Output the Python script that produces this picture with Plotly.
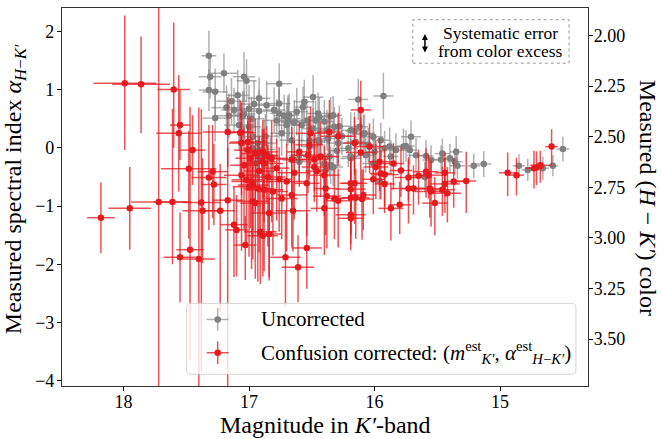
import plotly.graph_objects as go

# ---------------- data ----------------
gray_mag = [
    17.32, 17.31, 17.32, 17.27, 17.20, 17.04, 17.02, 16.76, 17.14, 17.09,
    17.12, 17.00, 16.92, 16.76, 16.76, 16.78, 17.08, 17.06, 16.97, 16.87,
    16.93, 16.90, 16.97, 16.92, 16.94, 16.83, 16.69, 17.18, 16.86, 16.92,
    17.00, 16.68, 16.62, 16.57, 16.49, 16.54, 16.44, 16.40, 16.33, 16.28,
    16.13, 15.93, 16.16, 16.09, 16.01, 15.95, 15.88, 15.83, 15.77, 15.71,
    15.67, 15.59, 16.19, 15.96, 16.01, 16.07, 16.88, 16.90, 16.85, 16.74,
    16.70, 16.64, 16.60, 16.52, 16.44, 16.33, 16.36, 16.21, 16.29, 16.56,
    16.45, 16.35, 16.69, 16.58, 16.49, 16.32, 16.19, 16.12, 16.08, 16.45,
    16.37, 16.66, 16.19, 16.40, 16.00, 15.92, 15.87, 15.75, 15.72, 15.55,
    15.46, 15.47, 15.40, 15.35, 15.36, 15.34, 15.21, 15.13, 14.85, 14.78,
    14.66, 14.58, 14.50, 15.60, 16.35, 16.39, 16.60, 17.27, 17.16, 17.05,
    16.98, 16.80, 16.72, 16.64, 16.47, 16.38, 16.26, 16.96, 17.04, 16.52,
    16.30, 16.15, 16.05]
gray_alpha = [
    1.58, 1.22, 0.99, 0.96, 1.28, 1.22, 1.15, 1.10, 0.80, 0.90,
    0.65, 0.67, 0.63, 0.76, 0.59, 0.47, 0.39, 0.27, 0.19, 0.20,
    0.08, -0.03, -0.01, -0.15, -0.26, -0.15, 0.45, 0.69, 0.73, 0.85,
    0.36, 0.56, 0.62, 0.70, 0.87, 0.47, 0.53, 0.45, 0.56, 0.37,
    0.83, 0.89, 0.29, 0.23, 0.19, 0.13, 0.02, -0.04, 0.02, 0.19,
    -0.13, -0.14, -0.18, -0.58, -0.27, -0.13, 0.08, -0.21, -0.13, 0.25,
    0.39, -0.21, -0.13, 0.02, 0.10, -0.33, -0.15, -0.01, 0.08, 0.79,
    0.59, 0.54, 0.50, 0.39, 0.33, 0.36, 0.30, 0.36, 0.25, 0.13,
    0.16, 0.13, -0.15, -0.27, -0.07, -0.01, -0.15, 0.03, -0.04, -0.21,
    -0.10, -0.20, -0.18, -0.07, -0.24, -0.31, -0.31, -0.28, -0.31, -0.38,
    -0.35, -0.31, -0.02, -0.50, -0.30, -0.38, -0.24, 0.51, 0.55, 0.55,
    0.50, 0.65, 0.55, 0.44, 0.47, 0.30, 0.20, 0.75, 0.58, 0.12,
    -0.05, 0.10, 0.05]
gray_xerr = [
    0.06, 0.09, 0.08, 0.10, 0.11, 0.09, 0.08, 0.10, 0.12, 0.09,
    0.10, 0.08, 0.11, 0.09, 0.07, 0.10, 0.12, 0.09, 0.08, 0.10,
    0.09, 0.11, 0.08, 0.10, 0.09, 0.07, 0.10, 0.12, 0.08, 0.09,
    0.10, 0.08, 0.09, 0.07, 0.08, 0.10, 0.09, 0.08, 0.07, 0.09,
    0.08, 0.08, 0.07, 0.09, 0.08, 0.07, 0.08, 0.06, 0.07, 0.08,
    0.07, 0.06, 0.08, 0.07, 0.09, 0.07, 0.10, 0.09, 0.08, 0.09,
    0.10, 0.09, 0.08, 0.07, 0.09, 0.08, 0.07, 0.08, 0.09, 0.08,
    0.09, 0.07, 0.10, 0.08, 0.09, 0.07, 0.08, 0.07, 0.08, 0.09,
    0.08, 0.10, 0.07, 0.08, 0.07, 0.08, 0.06, 0.07, 0.06, 0.07,
    0.06, 0.07, 0.06, 0.05, 0.06, 0.06, 0.05, 0.06, 0.05, 0.05,
    0.05, 0.04, 0.05, 0.06, 0.08, 0.07, 0.09, 0.10, 0.11, 0.09,
    0.10, 0.09, 0.08, 0.10, 0.07, 0.09, 0.08, 0.11, 0.09, 0.08,
    0.07, 0.08, 0.07]
gray_yerr = [
    0.43, 0.38, 0.36, 0.40, 0.34, 0.42, 0.37, 0.35, 0.40, 0.44,
    0.38, 0.41, 0.36, 0.39, 0.42, 0.37, 0.45, 0.40, 0.35, 0.38,
    0.41, 0.36, 0.39, 0.43, 0.37, 0.34, 0.40, 0.38, 0.42, 0.36,
    0.39, 0.37, 0.41, 0.35, 0.38, 0.36, 0.34, 0.37, 0.33, 0.36,
    0.35, 0.40, 0.32, 0.34, 0.31, 0.30, 0.33, 0.29, 0.31, 0.28,
    0.30, 0.27, 0.33, 0.31, 0.32, 0.30, 0.40, 0.38, 0.36, 0.39,
    0.37, 0.35, 0.38, 0.34, 0.36, 0.33, 0.35, 0.32, 0.34, 0.38,
    0.36, 0.33, 0.40, 0.37, 0.35, 0.34, 0.31, 0.33, 0.32, 0.36,
    0.34, 0.37, 0.30, 0.33, 0.29, 0.30, 0.28, 0.27, 0.26, 0.25,
    0.26, 0.24, 0.25, 0.27, 0.23, 0.22, 0.21, 0.22, 0.20, 0.19,
    0.20, 0.18, 0.21, 0.26, 0.32, 0.30, 0.35, 0.40, 0.38, 0.42,
    0.37, 0.39, 0.36, 0.38, 0.34, 0.35, 0.32, 0.41, 0.40, 0.33,
    0.31, 0.30, 0.29]

red_mag = [
    17.99, 17.86, 17.60, 17.55, 17.56, 17.45, 17.48, 17.29, 17.32, 17.28, 17.17,
    17.17, 17.72, 17.61, 17.38, 17.37, 17.23, 17.95, 18.18, 17.55, 17.47, 17.40,
    17.07, 17.06, 17.01, 16.95, 16.86, 16.82, 16.89, 16.99, 16.88,
    16.11, 16.51, 16.36, 16.29, 16.52, 16.16, 16.11, 16.60, 16.53, 16.48,
    16.43, 15.96, 15.99, 16.04, 15.85,
    15.79, 15.73, 15.65, 15.59, 15.57, 15.73, 15.69, 15.56, 15.55, 15.46, 15.44,
    15.44, 15.37, 15.27, 15.42, 14.94, 14.87, 14.73, 14.71, 14.68, 14.59,
    17.06, 17.02, 16.98, 17.00, 16.93, 16.88, 16.81, 16.76, 16.70, 16.97,
    16.95, 16.84, 17.12, 17.10, 16.91, 16.89, 16.84, 17.03, 16.71,
    16.64, 16.54, 16.40, 16.39, 16.38, 16.32, 16.29, 16.66, 16.65, 16.40, 16.19,
    16.16, 16.19, 16.19, 16.15, 16.09, 16.10, 16.19, 16.19, 16.01, 15.92, 15.92,
    15.87, 15.80, 16.54, 16.61,
    17.01, 16.89, 16.48, 15.95, 16.74, 16.97, 15.52,
    16.92, 16.85, 17.04, 16.78, 16.66, 16.46]
red_alpha = [
    1.11, 1.09, 1.00, 0.39, 0.25, -0.04, -0.36, -0.41, -0.51, -0.63, 0.27,
    -0.90, -0.93, -0.93, -0.94, -1.08, -1.08, -1.04, -1.20, -1.88, -1.75, -1.91,
    0.26, 0.08, 0.10, -0.10, -0.13, -0.18, -0.24, -0.18, -0.27,
    0.65, 0.25, 0.27, 0.20, 0.05, 0.08, -0.08, -0.07, -0.13, -0.20,
    -0.15, -0.24, -0.33, 0.02, -0.27,
    -0.39, -0.51, -0.48, -0.41, -0.47, -0.70, -0.70, -0.70, -0.75, -0.72, -0.43,
    -0.62, -0.58, -0.57, -0.78, -0.43, -0.47, -0.35, -0.34, -0.30, 0.02,
    -0.47, -0.55, -0.58, -0.67, -0.70, -0.72, -0.75, -0.54, -0.58, -0.92,
    -0.95, -1.12, -1.32, -1.41, -1.44, -1.51, -1.48, -1.67, -1.88,
    -0.43, -0.61, -0.47, -0.70, -0.83, -0.87, -0.91, -0.81, -1.08, -1.04, -0.61,
    -0.61, -0.71, -0.86, -0.86, -0.81, -0.88, -1.15, -1.21, -0.54, -0.46, -0.62,
    -1.04, -0.98, -1.72, -2.05,
    -0.04, -0.07, -0.33, -0.44, -0.87, -0.64, -0.95,
    -0.40, -0.50, -0.30, -0.35, -0.20, -0.40]
red_xerr = [
    0.25, 0.23, 0.13, 0.08, 0.18, 0.10, 0.22, 0.12, 0.14, 0.10, 0.20,
    0.12, 0.22, 0.15, 0.15, 0.16, 0.12, 0.17, 0.11, 0.13, 0.11, 0.13,
    0.12, 0.10, 0.14, 0.11, 0.09, 0.13, 0.10, 0.12, 0.15,
    0.08, 0.12, 0.10, 0.14, 0.11, 0.09, 0.12, 0.10, 0.13, 0.11,
    0.14, 0.09, 0.10, 0.12, 0.08,
    0.09, 0.11, 0.08, 0.10, 0.12, 0.14, 0.09, 0.11, 0.13, 0.10, 0.08,
    0.12, 0.09, 0.08, 0.11, 0.07, 0.06, 0.07, 0.06, 0.08, 0.05,
    0.14, 0.12, 0.16, 0.13, 0.11, 0.15, 0.12, 0.10, 0.14, 0.13,
    0.12, 0.14, 0.11, 0.09, 0.13, 0.12, 0.10, 0.09, 0.12,
    0.13, 0.10, 0.12, 0.09, 0.11, 0.08, 0.10, 0.12, 0.14, 0.11, 0.09,
    0.10, 0.12, 0.08, 0.11, 0.10, 0.09, 0.12, 0.10, 0.09, 0.11, 0.08,
    0.10, 0.09, 0.12, 0.13,
    0.11, 0.12, 0.10, 0.09, 0.13, 0.12, 0.10,
    0.12, 0.14, 0.11, 0.10, 0.12, 0.09]
red_yerr_up = [
    1.16, 0.82, 1.15, 0.60, 1.00, 0.60, 0.65, 0.80, 0.90, 0.70, 0.60,
    0.90, 4.00, 1.60, 1.60, 0.90, 0.80, 0.71, 0.61, 0.77, 2.45, 2.60,
    0.55, 0.70, 0.45, 0.60, 0.50, 0.65, 0.55, 0.70, 0.60,
    0.50, 0.45, 0.55, 0.40, 0.50, 0.45, 0.60, 0.50, 0.55, 0.45,
    0.60, 0.40, 0.45, 0.40, 0.35,
    0.40, 0.35, 0.45, 0.40, 0.35, 0.50, 0.40, 0.45, 0.55, 0.40, 0.35,
    0.45, 0.40, 0.50, 0.45, 0.35, 0.30, 0.30, 0.28, 0.25, 0.30,
    0.70, 0.60, 0.75, 0.65, 0.80, 0.70, 0.60, 0.55, 0.65, 0.60,
    0.70, 0.75, 0.65, 0.60, 0.70, 0.55, 0.60, 0.50, 0.80,
    0.55, 0.60, 0.50, 0.55, 0.60, 0.50, 0.55, 0.60, 0.50, 0.55, 0.45,
    0.50, 0.55, 0.45, 0.50, 0.45, 0.50, 0.40, 0.45, 0.50, 0.45, 0.40,
    0.45, 0.40, 0.60, 0.55,
    0.50, 0.55, 0.50, 0.40, 0.50, 0.60, 0.45,
    0.60, 0.55, 0.65, 0.50, 0.55, 0.50]
red_yerr_down = [
    1.15, 0.84, 1.00, 0.60, 1.00, 0.60, 1.20, 0.80, 0.90, 0.70, 0.60,
    3.30, 4.00, 1.07, 2.90, 0.90, 1.73, 0.71, 0.61, 0.77, 1.90, 2.50,
    0.80, 0.90, 0.70, 1.00, 0.80, 1.10, 0.90, 1.20, 1.00,
    0.60, 0.55, 0.65, 0.50, 0.60, 0.55, 0.70, 0.60, 0.65, 0.55,
    0.70, 0.50, 0.55, 0.45, 0.45,
    0.45, 0.40, 0.50, 0.45, 0.40, 0.60, 0.45, 0.50, 0.60, 0.45, 0.40,
    0.50, 0.45, 0.55, 0.50, 0.40, 0.35, 0.35, 0.30, 0.30, 0.35,
    1.30, 1.10, 1.50, 1.20, 1.60, 1.40, 1.10, 0.90, 1.20, 1.00,
    1.30, 1.10, 0.90, 0.80, 0.90, 0.70, 0.80, 0.60, 0.85,
    0.80, 0.90, 0.70, 0.80, 0.90, 0.70, 0.80, 0.90, 0.70, 0.80, 0.60,
    0.70, 0.80, 0.60, 0.70, 0.60, 0.70, 0.50, 0.55, 0.60, 0.55, 0.50,
    0.55, 0.50, 0.70, 0.60,
    0.70, 0.80, 0.60, 0.45, 0.70, 0.90, 0.55,
    1.40, 1.20, 1.10, 0.90, 0.80, 0.70]

x_ticks = [18, 17, 16, 15]
y_ticks = [-4, -3, -2, -1, 0, 1, 2]
y2_ticks = [2.00, 2.25, 2.50, 2.75, 3.00, 3.25, 3.50]
x_range = [18.49, 14.30]
y_range = [-4.09, 2.40]
# relation between spectral index and H-K' colour (right axis)
HK_OFFSET = 2.555
HK_SLOPE = 0.2877
y2_range = [HK_OFFSET - HK_SLOPE * y_range[0], HK_OFFSET - HK_SLOPE * y_range[1]]

GRAY = "#808080"
GRAY_BAR = "rgba(128,128,128,0.62)"
RED = "#e6191e"
RED_BAR = "rgba(230,25,30,0.75)"
FONT = "Liberation Serif"

fig = go.Figure()
fig.add_trace(go.Scatter(
    x=gray_mag, y=gray_alpha, mode="markers",
    marker=dict(size=6.5, color=GRAY),
    error_x=dict(type="data", array=gray_xerr, color=GRAY_BAR, thickness=1.5, width=0),
    error_y=dict(type="data", array=gray_yerr, color=GRAY_BAR, thickness=1.5, width=0),
    showlegend=False, hoverinfo="skip"))
fig.add_trace(go.Scatter(
    x=red_mag, y=red_alpha, mode="markers",
    marker=dict(size=6.5, color=RED),
    error_x=dict(type="data", array=red_xerr, color=RED_BAR, thickness=1.5, width=0),
    error_y=dict(type="data", symmetric=False, array=red_yerr_up,
                 arrayminus=red_yerr_down, color=RED_BAR, thickness=1.5, width=0),
    showlegend=False, hoverinfo="skip"))
fig.add_trace(go.Scatter(x=[], y=[], yaxis="y2", showlegend=False, hoverinfo="skip"))

axis_common = dict(showgrid=False, zeroline=False, ticks="outside", ticklen=4,
                   tickwidth=1, tickcolor="#000", showline=True, linecolor="#333",
                   linewidth=1.2, tickfont=dict(family=FONT, size=18, color="#000"))

fig.update_layout(
    width=663, height=439,
    margin=dict(l=62, r=75, t=8, b=53),
    paper_bgcolor="white", plot_bgcolor="white",
    font=dict(family=FONT, color="#000"),
    xaxis=dict(range=x_range, tickvals=x_ticks, mirror=True, ticklabelstandoff=-5,
               **axis_common),
    yaxis=dict(range=y_range, tickvals=y_ticks, ticklabelstandoff=-1, **axis_common),
    yaxis2=dict(range=y2_range, tickvals=y2_ticks, tickformat=".2f", ticklabelstandoff=-3,
                overlaying="y", side="right", **axis_common),
)

# legend frame, lower part
lx0, lx1, ly0, ly1 = 0.237, 0.977, 0.031, 0.2185
rx, ry = 0.008, 0.011
path = (f"M {lx0+rx},{ly0} L {lx1-rx},{ly0} Q {lx1},{ly0} {lx1},{ly0+ry} "
        f"L {lx1},{ly1-ry} Q {lx1},{ly1} {lx1-rx},{ly1} L {lx0+rx},{ly1} "
        f"Q {lx0},{ly1} {lx0},{ly1-ry} L {lx0},{ly0+ry} Q {lx0},{ly0} {lx0+rx},{ly0} Z")
shapes = [
    dict(type="path", xref="paper", yref="paper", path=path, layer="above",
         fillcolor="rgba(255,255,255,0.8)", line=dict(color="rgba(204,204,204,0.8)", width=1)),
    dict(type="rect", xref="paper", yref="paper", x0=0.667, x1=0.964, y0=0.854, y1=0.969,
         line=dict(color="#999", width=1, dash="dot"), fillcolor="rgba(0,0,0,0)", layer="above"),
]
icon_x = 0.296
for cy, bar, col in [(0.176, GRAY_BAR, GRAY), (0.088, RED_BAR, RED)]:
    shapes.append(dict(type="line", xref="paper", yref="paper", x0=icon_x-0.021, x1=icon_x+0.021,
                       y0=cy, y1=cy, line=dict(color=bar, width=1.5), layer="above"))
    shapes.append(dict(type="line", xref="paper", yref="paper", x0=icon_x, x1=icon_x,
                       y0=cy-0.03, y1=cy+0.03, line=dict(color=bar, width=1.5), layer="above"))
    shapes.append(dict(type="circle", xref="paper", yref="paper", xsizemode="pixel",
                       ysizemode="pixel", xanchor=icon_x, yanchor=cy, x0=-3.3, x1=3.3,
                       y0=-3.3, y1=3.3, fillcolor=col, line=dict(color=col, width=0),
                       layer="above"))
fig.update_layout(shapes=shapes)

ann = [
    dict(text="Magnitude in <i>K′</i>-band", x=0.5, y=-0.102, xref="paper", yref="paper",
         showarrow=False, xanchor="center", yanchor="middle", font=dict(size=24)),
    dict(text="Measured spectral index <i>α</i><sub><i>H</i>−<i>K′</i></sub>", x=-0.088, y=0.52,
         xref="paper", yref="paper", showarrow=False, textangle=-90,
         xanchor="center", yanchor="middle", font=dict(size=24)),
    dict(text="Measured (<i>H</i> − <i>K′</i>) color", x=1.114, y=0.498, xref="paper",
         yref="paper", showarrow=False, textangle=90, xanchor="center", yanchor="middle",
         font=dict(size=24)),
    dict(text="Systematic error", x=0.833, y=0.934, xref="paper", yref="paper",
         showarrow=False, xanchor="center", yanchor="middle", font=dict(size=17.5)),
    dict(text="from color excess", x=0.833, y=0.885, xref="paper", yref="paper",
         showarrow=False, xanchor="center", yanchor="middle", font=dict(size=17.5)),
    dict(text="", x=0.690, y=0.882, xref="paper", yref="paper", showarrow=True,
         ax=0, ay=-20, arrowside="end+start", arrowhead=2, arrowsize=0.8,
         arrowwidth=1.5, arrowcolor="#000"),
    dict(text="Uncorrected", x=0.375, y=0.176, xref="paper", yref="paper",
         showarrow=False, xanchor="left", yanchor="middle", font=dict(size=21)),
    dict(text="Confusion corrected: (<i>m</i><sup>est</sup><sub><i>K′</i></sub>, "
              "<i>α</i><sup>est</sup><sub><i>H</i>−<i>K′</i></sub>)",
         x=0.375, y=0.088, xref="paper", yref="paper",
         showarrow=False, xanchor="left", yanchor="middle", font=dict(size=21)),
]
fig.update_layout(annotations=ann)

fig.write_html("out.html")
